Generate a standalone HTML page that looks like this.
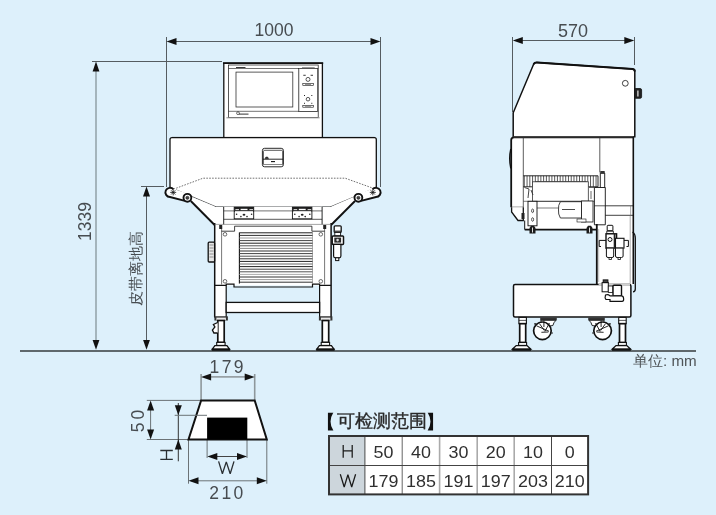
<!DOCTYPE html>
<html><head><meta charset="utf-8">
<style>
html,body{margin:0;padding:0;background:#ddf0fb;}
body{width:716px;height:515px;overflow:hidden;}
svg{display:block;will-change:transform;}
text{font-family:"Liberation Sans",sans-serif;}
</style></head><body>
<svg width="716" height="515" viewBox="0 0 716 515">
<rect x="0" y="0" width="716" height="515" fill="#ddf0fb"/>

<!-- ===== dimension lines ===== -->
<g stroke="#555c60" stroke-width="1" fill="none">
  <!-- 1000 -->
  <line x1="166.5" y1="37" x2="166.5" y2="187"/>
  <line x1="380.5" y1="37" x2="380.5" y2="187"/>
  <line x1="170" y1="41.5" x2="377" y2="41.5"/>
  <!-- 1339 -->
  <line x1="92" y1="61.5" x2="222" y2="61.5"/>
  <line x1="96" y1="66" x2="96" y2="345" stroke="#7f8d93" stroke-width="1.2"/>
  <!-- belt height -->
  <line x1="141" y1="186.5" x2="164" y2="186.5"/>
  <line x1="146.5" y1="192" x2="146.5" y2="345"/>
  <!-- 570 -->
  <line x1="512.5" y1="37" x2="512.5" y2="112"/>
  <line x1="634.5" y1="37" x2="634.5" y2="65"/>
  <line x1="516" y1="40.5" x2="631" y2="40.5"/>
</g>
<g fill="#111">
  <polygon points="166.5,41.5 176.5,38 176.5,45"/>
  <polygon points="380.5,41.5 370.5,38 370.5,45"/>
  <polygon points="96,61.5 92.6,71.5 99.4,71.5"/>
  <polygon points="146.5,186.5 143,196.5 150,196.5"/>
  <polygon points="96,349.8 92.6,340 99.4,340"/>
  <polygon points="146.5,349.8 143.1,340 149.9,340"/>
  <polygon points="512.8,40.5 522.8,37 522.8,44"/>
  <polygon points="634.3,40.5 624.3,37 624.3,44"/>
</g>
<g fill="#474c50">
  <text x="274" y="36.3" font-size="17.5" text-anchor="middle">1000</text>
  <text x="573" y="36.5" font-size="18" text-anchor="middle">570</text>
  <text transform="translate(91.2,221.5) rotate(-90)" font-size="17.5" text-anchor="middle">1339</text>
  <text transform="translate(140.6,268.7) rotate(-90)" font-size="14.8" font-weight="500" text-anchor="middle">皮带离地高</text>
  <text x="633" y="365.8" font-size="15.2" fill="#505558">单位: mm</text>
</g>

<!-- floor -->
<line x1="20" y1="351" x2="696" y2="351" stroke="#5f686c" stroke-width="2"/>

<!-- ===== LEFT MACHINE ===== -->
<g id="left" stroke="#111" fill="#fff">
  <!-- monitor -->
  <rect x="223.8" y="63.3" width="98.6" height="75" stroke-width="1.3"/>
  <line x1="223" y1="63.2" x2="323.2" y2="63.2" stroke-width="1.8"/>
  <rect x="228.6" y="65" width="89.6" height="52.4" stroke-width="0.7"/>
  <line x1="226.4" y1="117.8" x2="319.6" y2="117.8" stroke="#888" stroke-width="1"/>
  <line x1="228.6" y1="68.5" x2="318.2" y2="68.5" stroke-width="0.6"/>
  <line x1="228.6" y1="111.3" x2="318.2" y2="111.3" stroke-width="0.6"/>
  <rect x="236" y="72.1" width="56.8" height="34.9" stroke="#333" stroke-width="0.8"/>
  <rect x="298.4" y="68.5" width="19" height="42.8" stroke-width="0.6"/>
  <line x1="299.2" y1="68.5" x2="299.2" y2="111.3" stroke="#999" stroke-width="0.6"/>
  <g stroke-width="0.7" fill="#fff">
    <circle cx="308" cy="79.4" r="2"/>
    <circle cx="308" cy="99.2" r="1.8"/>
    <rect x="302.8" y="83.5" width="10.8" height="1.9" stroke-width="0.6"/>
    <rect x="302.8" y="105.3" width="10.8" height="1.9" stroke-width="0.6"/>
  </g>
  <g fill="#222" stroke="none">
    <rect x="303.3" y="74.8" width="2.4" height="0.9"/>
    <rect x="310.6" y="74.8" width="2.4" height="0.9"/>
    <rect x="304" y="95" width="1" height="1"/><rect x="311.3" y="95" width="1" height="1"/>
    <rect x="304" y="102.8" width="1" height="1"/><rect x="311.3" y="102.8" width="1" height="1"/>
    <rect x="305" y="84.1" width="6" height="0.7" fill="#666"/>
    <rect x="305" y="105.9" width="6" height="0.7" fill="#666"/>
    <rect x="236" y="67" width="9.5" height="0.9"/>
    <rect x="302" y="67.2" width="12.7" height="0.6" fill="#555"/>
    <rect x="239" y="113.6" width="9.5" height="1" fill="#333"/>
  </g>
  <circle cx="238" cy="113.2" r="1.4" fill="none" stroke-width="0.6"/>
  <!-- conveyor box -->
  <path d="M170,189 V139.5 Q170,137.6 172,137.6 H374.5 Q376.3,137.6 376.3,139.5 V189" stroke-width="1.3"/>
  <line x1="172" y1="137.4" x2="374.5" y2="137.4" stroke-width="0.8"/>
  <rect x="262.4" y="148.3" width="21" height="18.5" rx="2.2" stroke-width="0.9"/>
  <path d="M263.4,164.5 V151.6 Q263.4,150.3 264.8,150.3 H281.3 Q282.7,150.3 282.7,151.6 V164.5" stroke-width="0.7" fill="none"/>
  <line x1="263" y1="159.2" x2="283" y2="159.2" stroke-width="0.9"/>
  <line x1="263.4" y1="164.5" x2="282.7" y2="164.5" stroke-width="0.5"/>
  <path d="M265.2,158.6 A1.6,1.6 0 0 1 268.4,158.6 Z" fill="#222" stroke-width="0.6"/>
  <line x1="271" y1="161.6" x2="275" y2="161.6" stroke-width="1.1"/>
  <!-- conveyor belt panel -->
  <path d="M170,189 L203,178.3 H345 L376,189 L370,191 L331,206.8 H216 L176,191 Z" stroke="none"/>
  <path d="M173.5,189.2 L203,178.2 H345.2 L373.8,188.5" stroke="#333" stroke-width="0.7" stroke-dasharray="1.6,1.3" fill="none"/>
  <path d="M176,189.8 L216,206.8 M330.5,206.8 L370.5,190" stroke="#333" stroke-width="0.8" fill="none"/>
  <line x1="214" y1="207.2" x2="332" y2="207.2" stroke="#222" stroke-width="1.4"/>
  <!-- hopper sides -->
  <path d="M190.8,201 L214.6,225 H223.7 V207 H216 L191.8,197 Z" stroke="none"/>
  <path d="M355,201 L331.1,225 H322.1 V207 H330.5 L353.5,197 Z" stroke="none"/>
  <line x1="190.8" y1="201" x2="214.6" y2="225" stroke-width="1.9"/>
  <line x1="355" y1="201" x2="331.1" y2="225" stroke-width="1.9"/>
  <!-- rollers/links -->
  <path d="M170,187.8 L187.4,193.6 L187.4,202 L170,197 A4.6,4.6 0 0 1 170,187.8 Z" stroke="none"/>
  <path d="M173.5,189.4 A4.6,4.6 0 1 0 170,197 L185,200.8" stroke-width="1.9" fill="none"/>
  <path d="M173.2,189.4 v6 M170.2,192.4 h6 M171.1,190.3 l4.2,4.2 M175.3,190.3 l-4.2,4.2" stroke-width="0.8"/>
  <circle cx="187.4" cy="197.8" r="3.9" stroke-width="1.9"/>
  <circle cx="187.4" cy="197.8" r="1.6" fill="#444" stroke-width="0.5"/>
  <path d="M376,187.8 L358.4,193.6 L358.4,202 L376,197 A4.6,4.6 0 0 0 376,187.8 Z" stroke="none"/>
  <path d="M372.5,189.4 A4.6,4.6 0 1 1 376,197 L361,200.8" stroke-width="1.9" fill="none"/>
  <path d="M372.8,189.4 v6 M369.8,192.4 h6 M370.7,190.3 l4.2,4.2 M374.9,190.3 l-4.2,4.2" stroke-width="0.8"/>
  <circle cx="358.4" cy="197.8" r="3.9" stroke-width="1.9"/>
  <circle cx="358.4" cy="197.8" r="1.6" fill="#444" stroke-width="0.5"/>
  <!-- sub frame under conveyor -->
  <path d="M214.7,224 H331.1 V285.4 H214.7 Z M223.7,206.8 H322.1 V224.4 H223.7 Z M214.7,285 H226.2 V317.5 H214.7 Z M319.6,285 H331.1 V317.5 H319.6 Z" stroke="none"/>
  <line x1="223.7" y1="207" x2="223.7" y2="224.4" stroke-width="0.9"/>
  <line x1="322.1" y1="207" x2="322.1" y2="224.4" stroke-width="0.9"/>
  <line x1="223.7" y1="210.9" x2="322.1" y2="210.9" stroke-width="0.6"/>
  <line x1="223.7" y1="219.3" x2="322.1" y2="219.3" stroke-width="0.7"/>
  <rect x="234.2" y="207.2" width="19.5" height="11.6" stroke-width="0.9"/>
  <rect x="234.2" y="207" width="19.5" height="5" fill="#1e1e1e" stroke="none"/>
  <rect x="240.6" y="208.8" width="6.9" height="1.3" fill="#fff" stroke="none"/>
  <rect x="235.4" y="209" width="3.6" height="1.1" fill="#ccc" stroke="none"/>
  <rect x="249.4" y="209" width="3.6" height="1.1" fill="#ccc" stroke="none"/>
  <rect x="235.0" y="210.9" width="18" height="1" fill="#eee" stroke="none"/>
  <g fill="#222" stroke="none">
    <circle cx="236.6" cy="214.2" r="0.8"/><circle cx="251.6" cy="214.2" r="0.8"/>
    <ellipse cx="244.0" cy="214.8" rx="1.4" ry="1"/><circle cx="240.9" cy="216.6" r="0.8"/><circle cx="247.0" cy="216.6" r="0.8"/>
  </g>
  <rect x="292.4" y="207.2" width="19.5" height="11.6" stroke-width="0.9"/>
  <rect x="292.4" y="207" width="19.5" height="5" fill="#1e1e1e" stroke="none"/>
  <rect x="298.8" y="208.8" width="6.9" height="1.3" fill="#fff" stroke="none"/>
  <rect x="293.6" y="209" width="3.6" height="1.1" fill="#ccc" stroke="none"/>
  <rect x="307.6" y="209" width="3.6" height="1.1" fill="#ccc" stroke="none"/>
  <rect x="293.2" y="210.9" width="18" height="1" fill="#eee" stroke="none"/>
  <g fill="#222" stroke="none">
    <circle cx="294.8" cy="214.2" r="0.8"/><circle cx="309.8" cy="214.2" r="0.8"/>
    <ellipse cx="302.2" cy="214.8" rx="1.4" ry="1"/><circle cx="299.1" cy="216.6" r="0.8"/><circle cx="305.2" cy="216.6" r="0.8"/>
  </g>
  <!-- body -->
  <line x1="214.7" y1="223" x2="214.7" y2="317.5" stroke-width="1.5"/>
  <line x1="331.1" y1="223" x2="331.1" y2="317.5" stroke-width="1.5"/>
  <line x1="214.7" y1="224.4" x2="331.1" y2="224.4" stroke-width="0.6" stroke="#666"/>
  <line x1="221.6" y1="226" x2="221.6" y2="284.5" stroke="#555" stroke-width="0.8"/>
  <line x1="324.6" y1="226" x2="324.6" y2="284.5" stroke="#555" stroke-width="0.8"/>
  <path d="M221.6,231.2 H234.6 V226.2 H311.9 V231.2 H324.6" stroke-width="0.8" fill="none"/>
  <path d="M214.7,285.4 H226.2 V284.2 H234 V287 H312.5 V284.2 H319.6 V285.4 H331.1" stroke-width="1.2" fill="none"/>
  <circle cx="225" cy="234.3" r="1.8" stroke-width="0.6"/>
  <circle cx="225" cy="281.3" r="1.8" stroke-width="0.6"/>
  <circle cx="320.8" cy="234.3" r="1.8" stroke-width="0.6"/>
  <circle cx="320.8" cy="281.3" r="1.8" stroke-width="0.6"/>
  <rect x="219.2" y="225" width="3" height="4" fill="#222" stroke="none"/>
  <rect x="323.2" y="225" width="3" height="4" fill="#222" stroke="none"/>
  <!-- grille -->
  <line x1="239.4" y1="232.6" x2="239.4" y2="283.4" stroke-width="1.1"/>
  <line x1="312.5" y1="232.6" x2="312.5" y2="283.4" stroke-width="0.6" stroke="#777"/>
  <g id="grille">
    <line x1="239.4" y1="232.8" x2="312.5" y2="232.8" stroke="#222" stroke-width="1"/>
    <line x1="239.4" y1="235.4" x2="312.5" y2="235.4" stroke="#333" stroke-width="1"/>
    <line x1="239.4" y1="238" x2="312.5" y2="238" stroke="#999" stroke-width="1"/>
    <line x1="239.4" y1="240.6" x2="312.5" y2="240.6" stroke="#444" stroke-width="1"/>
    <line x1="239.4" y1="243.2" x2="312.5" y2="243.2" stroke="#222" stroke-width="1"/>
    <line x1="239.4" y1="245.8" x2="312.5" y2="245.8" stroke="#555" stroke-width="1"/>
    <line x1="239.4" y1="248.4" x2="312.5" y2="248.4" stroke="#888" stroke-width="1"/>
    <line x1="239.4" y1="251" x2="312.5" y2="251" stroke="#333" stroke-width="1"/>
    <line x1="239.4" y1="253.6" x2="312.5" y2="253.6" stroke="#444" stroke-width="1"/>
    <line x1="239.4" y1="256.2" x2="312.5" y2="256.2" stroke="#555" stroke-width="1"/>
    <line x1="239.4" y1="258.8" x2="312.5" y2="258.8" stroke="#333" stroke-width="1"/>
    <line x1="239.4" y1="261.4" x2="312.5" y2="261.4" stroke="#222" stroke-width="1"/>
    <line x1="239.4" y1="264" x2="312.5" y2="264" stroke="#666" stroke-width="1"/>
    <line x1="239.4" y1="266.6" x2="312.5" y2="266.6" stroke="#222" stroke-width="1"/>
    <line x1="239.4" y1="269.2" x2="312.5" y2="269.2" stroke="#444" stroke-width="1"/>
    <line x1="239.4" y1="271.8" x2="312.5" y2="271.8" stroke="#555" stroke-width="1"/>
    <line x1="239.4" y1="274.4" x2="312.5" y2="274.4" stroke="#aaa" stroke-width="1"/>
    <line x1="239.4" y1="277" x2="312.5" y2="277" stroke="#333" stroke-width="1"/>
    <line x1="239.4" y1="279.6" x2="312.5" y2="279.6" stroke="#999" stroke-width="1"/>
    <line x1="239.4" y1="282.2" x2="312.5" y2="282.2" stroke="#333" stroke-width="1"/>
  </g>
  <!-- legs -->
  <line x1="226.2" y1="285.4" x2="226.2" y2="317.5" stroke-width="1.2"/>
  <line x1="319.6" y1="285.4" x2="319.6" y2="317.5" stroke-width="1.2"/>
  <rect x="226.2" y="302.4" width="93.4" height="10.1" stroke-width="1.3"/>
  <line x1="214.7" y1="317.4" x2="226.2" y2="317.4" stroke-width="1.2"/>
  <line x1="319.6" y1="317.4" x2="331.1" y2="317.4" stroke-width="1.2"/>
  <!-- feet -->
  <rect x="214.4" y="316.3" width="13.5" height="4.2" fill="#333" stroke="none"/>
  <rect x="216.4" y="317.6" width="9.5" height="2.6" fill="#e8e8e8" stroke="none"/>
  <rect x="217.8" y="320.5" width="6.4" height="21.9" stroke-width="1.7"/>
  <rect x="216.70000000000002" y="342.4" width="8.4" height="3" stroke-width="1.1"/>
  <path d="M214.9,345.6 H226.9 L229.5,349.2 H212.3 Z" stroke-width="1.3"/>
  <rect x="211.70000000000002" y="348.6" width="18.4" height="2.2" fill="#111" stroke="none"/>
  <path d="M217.70000000000002,322.5 L213.4,324.5 L214.9,327 L212.4,330 L213.9,333 L217.70000000000002,333" stroke-width="1.3"/>
  <rect x="318.9" y="316.3" width="13.5" height="4.2" fill="#333" stroke="none"/>
  <rect x="320.9" y="317.6" width="9.5" height="2.6" fill="#e8e8e8" stroke="none"/>
  <rect x="322.29999999999995" y="320.5" width="6.4" height="21.9" stroke-width="1.7"/>
  <rect x="321.2" y="342.4" width="8.4" height="3" stroke-width="1.1"/>
  <path d="M319.4,345.6 H331.4 L334.0,349.2 H316.79999999999995 Z" stroke-width="1.3"/>
  <rect x="316.2" y="348.6" width="18.4" height="2.2" fill="#111" stroke="none"/>
  <!-- side parts -->
  <rect x="208.2" y="242.2" width="6.4" height="19.8" rx="1" fill="#e6e6e6" stroke-width="1.3"/>
  <g stroke="#555" stroke-width="0.6">
    <line x1="209.5" y1="245" x2="213.5" y2="245"/><line x1="209.5" y1="248" x2="213.5" y2="248"/>
    <line x1="209.5" y1="251" x2="213.5" y2="251"/><line x1="209.5" y1="254" x2="213.5" y2="254"/>
    <line x1="209.5" y1="257" x2="213.5" y2="257"/>
  </g>
  <g stroke-width="1.3">
    <rect x="334.2" y="225.8" width="7" height="6.6" rx="1"/>
    <rect x="334.2" y="230.6" width="7" height="1.2" fill="#333" stroke="none"/>
    <rect x="334.8" y="232.4" width="5.8" height="3.6" stroke-width="0.9"/>
    <rect x="332.2" y="236" width="11.3" height="8.4" rx="0.8" stroke-width="1.5"/>
    <rect x="334.3" y="237.6" width="6.8" height="5" fill="#2a2a2a" stroke="none"/>
    <circle cx="337.6" cy="240.1" r="1.3" fill="#ddd" stroke="none"/>
    <path d="M333.6,244.4 H340.9 V256 Q340.9,257.8 339.1,257.8 H335.4 Q333.6,257.8 333.6,256 Z" stroke-width="1.2"/>
    <rect x="335.6" y="257.8" width="3.2" height="2.8" stroke-width="1"/>
  </g>
  </g>
<!-- ===== RIGHT MACHINE ===== -->
<g id="right" stroke="#111" fill="#fff">
  <!-- top housing -->
  <path d="M513.2,136.8 V112.8 L533.6,64.2 Q534.6,62.2 537,62.4 L632.6,69 Q634.8,69.3 634.8,71.5 V136.8 Z" stroke-width="1.5"/>
  <path d="M533.6,64.2 Q534.6,62.2 537,62.4 L632.6,69 Q634.8,69.3 634.8,71.5" stroke-width="2" fill="none"/>
  <circle cx="625.3" cy="83.3" r="2.9" stroke-width="0.8"/>
  <path d="M635.3,88.5 H640 Q641.6,88.5 641.6,90 V96.8 Q641.6,98.3 640,98.3 H635.3 Z" fill="#222" stroke-width="0.8"/>
  <rect x="637.3" y="90.5" width="1.2" height="6" fill="#eee" stroke="none"/>
  <!-- white fill for body -->
  <path d="M511.2,137 H633.5 V285 H597 V229.6 H524.6 V220.5 H518 L511.6,212 V207.2 H511.2 Z" stroke="none"/>
  <!-- lower body outline -->
  <path d="M511.2,207.2 V140 Q511.2,137.4 514,137.4 H633.2" stroke-width="1.8" fill="none"/>
  <line x1="513.5" y1="136.8" x2="633.5" y2="136.8" stroke="#444" stroke-width="1.5"/>
  <path d="M510.8,149 Q508.6,158.5 510.8,168.3" stroke-width="1.4" fill="none"/>
  <line x1="633.3" y1="137" x2="633.3" y2="284" stroke-width="1.6"/>
  <line x1="523.3" y1="137.4" x2="523.3" y2="207.2" stroke="#333" stroke-width="0.8"/>
  <line x1="599.8" y1="137.4" x2="599.8" y2="172.5" stroke="#333" stroke-width="0.8"/>
  <!-- belt teeth -->
  <g stroke="#222" stroke-width="0.75"><line x1="524.30" y1="175.8" x2="524.30" y2="186.8"/><line x1="527.06" y1="175.8" x2="527.06" y2="186.8"/><line x1="529.82" y1="175.8" x2="529.82" y2="186.8"/><line x1="532.58" y1="175.8" x2="532.58" y2="186.8"/><line x1="535.34" y1="175.8" x2="535.34" y2="186.8"/><line x1="538.10" y1="175.8" x2="538.10" y2="181.8"/><line x1="540.86" y1="175.8" x2="540.86" y2="181.8"/><line x1="543.62" y1="175.8" x2="543.62" y2="181.8"/><line x1="546.38" y1="175.8" x2="546.38" y2="181.8"/><line x1="549.14" y1="175.8" x2="549.14" y2="181.8"/><line x1="551.90" y1="175.8" x2="551.90" y2="181.8"/><line x1="554.66" y1="175.8" x2="554.66" y2="181.8"/><line x1="557.42" y1="175.8" x2="557.42" y2="181.8"/><line x1="560.18" y1="175.8" x2="560.18" y2="181.8"/><line x1="562.94" y1="175.8" x2="562.94" y2="181.8"/><line x1="565.70" y1="175.8" x2="565.70" y2="181.8"/><line x1="568.46" y1="175.8" x2="568.46" y2="181.8"/><line x1="571.22" y1="175.8" x2="571.22" y2="181.8"/><line x1="573.98" y1="175.8" x2="573.98" y2="181.8"/><line x1="576.74" y1="175.8" x2="576.74" y2="181.8"/><line x1="579.50" y1="175.8" x2="579.50" y2="181.8"/><line x1="582.26" y1="175.8" x2="582.26" y2="181.8"/><line x1="585.02" y1="175.8" x2="585.02" y2="181.8"/><line x1="587.78" y1="175.8" x2="587.78" y2="186.8"/><line x1="590.54" y1="175.8" x2="590.54" y2="186.8"/><line x1="593.30" y1="175.8" x2="593.30" y2="186.8"/><line x1="596.06" y1="175.8" x2="596.06" y2="186.8"/></g>
  <path d="M523.3,175.8 H598 V186.8 H586.5 V181.8 H535.6 V186.8 H523.3" stroke-width="0.9" fill="none"/>
  <rect x="532.4" y="181.8" width="55.9" height="19.5" stroke="#333" stroke-width="0.8"/>
  <path d="M524.5,187.5 L529,189 L528,198 M531,190 L533,195" stroke="#333" stroke-width="0.9" fill="none"/>
  <path d="M589,187.5 L596,187.5 L596,199 M591,191 v8" stroke="#444" stroke-width="0.8" fill="none"/>
  <line x1="523.3" y1="201.3" x2="594.4" y2="201.3" stroke="#444" stroke-width="0.7"/>
  <line x1="511.2" y1="207.2" x2="523.3" y2="207.2" stroke="#444" stroke-width="0.9"/>
  <line x1="537" y1="208" x2="560.2" y2="208" stroke="#444" stroke-width="0.7"/>
  <!-- guide column -->
  <path d="M600.3,173 H604.7 V188 H600.3 Z" stroke-width="0.9"/>
  <path d="M594.4,187.5 H605.3 V224.8 H594.4 Z" stroke-width="0.9"/>
  <rect x="600.3" y="171" width="4.4" height="2.8" fill="#333" stroke="none"/>
  <line x1="594.4" y1="205.8" x2="605.3" y2="205.8" stroke-width="0.7"/>
  <line x1="605.3" y1="205.8" x2="633.3" y2="205.8" stroke-width="0.8"/>
  <line x1="605.3" y1="215.3" x2="633.3" y2="215.3" stroke-width="0.8"/>
  <line x1="630.6" y1="205.8" x2="630.6" y2="215.3" stroke="#777" stroke-width="0.6"/>
  <!-- motor -->
  <path d="M560.4,201.7 H581.5 V218 H560.4 Q558,214 558.5,210 Q558,205 560.4,201.7 Z" stroke-width="0.8"/>
  <line x1="562" y1="209.5" x2="575" y2="209.5" stroke="#333" stroke-width="0.9"/>
  <rect x="581.5" y="201" width="11.5" height="21" stroke-width="0.8"/>
  <rect x="577" y="219" width="9" height="3" stroke-width="0.6"/>
  <!-- bottom-left corner piece -->
  <path d="M511.6,207.2 V212 L518,220.5 H523.3 V207.2" stroke-width="1.3"/>
  <rect x="521.5" y="213" width="3" height="6" fill="#222" stroke="none"/>
  <rect x="528" y="201.3" width="9" height="24.5" stroke-width="0.9"/>
  <ellipse cx="532.6" cy="210.8" rx="1" ry="1.8" stroke-width="0.7"/>
  <ellipse cx="532.6" cy="219.5" rx="1" ry="1.8" stroke-width="0.7"/>
  <line x1="524.7" y1="229.6" x2="597" y2="229.6" stroke-width="1.8"/>
  <line x1="524.7" y1="220.5" x2="524.7" y2="229.6" stroke-width="1"/>
    <path d="M529.5,233.4 V228 L531.0,225.8 H534.0 L535.5,228 V233.4 Z" fill="#1a1a1a" stroke="none"/><rect x="532.0" y="227.5" width="1" height="5" fill="#ddd" stroke="none"/>
  <path d="M586.5,233.4 V228 L588.0,225.8 H591.0 L592.5,228 V233.4 Z" fill="#1a1a1a" stroke="none"/><rect x="589.0" y="227.5" width="1" height="5" fill="#ddd" stroke="none"/>
  <!-- column -->
  <line x1="596.8" y1="224" x2="596.8" y2="284" stroke-width="1.8"/>
  <line x1="598.7" y1="229" x2="598.7" y2="282" stroke="#999" stroke-width="0.6"/>
  
  <line x1="630.2" y1="216" x2="630.2" y2="284" stroke="#777" stroke-width="0.6"/>
  <!-- filter units -->
  <g stroke-width="1">
    <path d="M606,240.4 H599.2 V246.5 H601" fill="none"/>
    <path d="M624,240.4 H628.4 V246.5 H626.5" fill="none"/>
    <rect x="607.2" y="225.3" width="5.7" height="5.6" rx="0.8"/>
    <rect x="607.2" y="230.2" width="5.7" height="1" fill="#333" stroke="none"/>
    <rect x="606.8" y="231.2" width="6.5" height="2.6" stroke-width="0.8"/>
    <rect x="606" y="233.8" width="10.6" height="14.3" stroke-width="1.4"/>
    <rect x="613.7" y="233.8" width="1.8" height="14.3" fill="#222" stroke="none"/>
    <circle cx="610" cy="239.5" r="2" stroke-width="1"/>
    <rect x="615.5" y="238.3" width="8.5" height="9.8" stroke-width="1.1"/>
    <path d="M606.4,248.1 H613.7 V256 Q613.7,257.5 612,257.5 H608.1 Q606.4,257.5 606.4,256 Z"/>
    <path d="M615.5,248.1 H623.1 V256 Q623.1,257.5 621.4,257.5 H617.2 Q615.5,257.5 615.5,256 Z"/>
    <rect x="609" y="257.5" width="2.6" height="2" stroke-width="0.8"/>
    <rect x="618" y="257.5" width="2.6" height="2" stroke-width="0.8"/>
  </g>
  <!-- base -->
  <rect x="513.5" y="284.6" width="117.4" height="32.4" rx="1.5" stroke-width="1.5"/>
  <line x1="598.6" y1="284.6" x2="630" y2="284.6" stroke="#d0d0d0" stroke-width="1.6"/>
  <path d="M632.6,232 Q635.3,234 635.3,238 V289 Q635.3,291.8 633,291.8" stroke-width="1.3" fill="none"/>
  <!-- solenoid -->
  <g stroke-width="1">
    <rect x="602.1" y="282.6" width="6.2" height="9.2"/>
    <rect x="603.2" y="279.9" width="4.7" height="2.7" fill="#444"/>
    <rect x="608.3" y="286" width="4.7" height="6.5" stroke-width="0.8"/>
    <rect x="613" y="285.3" width="8.5" height="10.6" rx="1" stroke-width="1.4"/>
    <path d="M605.5,295 Q604.5,298 606,299.5 H610 V301.3 H622 Q624,301.3 623.6,298.5 Q623.4,295.8 621.5,295.8 H610 Q608,293.8 605.5,295 Z" stroke-width="1.2"/>
  </g>
  <!-- legs -->
  <rect x="518.9" y="317.4" width="7.5" height="6.3" stroke-width="1.1"/>
  <line x1="518.9" y1="320.4" x2="526.4" y2="320.4" stroke-width="0.7"/>
  <rect x="519.7" y="323.7" width="6" height="18.8" stroke-width="1.7"/>
  <rect x="518.6" y="342.5" width="8" height="2.9" stroke-width="1.1"/>
  <path d="M516.2,345.6 H527.0 L530.8000000000001,349.2 H512.4 Z" stroke-width="1.3"/>
  <rect x="512.2" y="348.6" width="18.8" height="2.2" fill="#111" stroke="none"/>
  <rect x="618.6999999999999" y="317.4" width="7.5" height="6.3" stroke-width="1.1"/>
  <line x1="618.6999999999999" y1="320.4" x2="626.1999999999999" y2="320.4" stroke-width="0.7"/>
  <rect x="619.5" y="323.7" width="6" height="18.8" stroke-width="1.7"/>
  <rect x="618.4" y="342.5" width="8" height="2.9" stroke-width="1.1"/>
  <path d="M616.0,345.6 H626.8 L630.6,349.2 H612.1999999999999 Z" stroke-width="1.3"/>
  <rect x="612.0" y="348.6" width="18.8" height="2.2" fill="#111" stroke="none"/>
  <!-- casters -->
  <rect x="540.2" y="317.6" width="16.6" height="2.8" fill="#333" stroke="none"/>
  <path d="M540.90,320.3 H555.90 L553.90,322.8 L552.90,325.5 L546.40,326.5 L541.40,324 Z" stroke-width="0.9"/>
  <circle cx="542.4" cy="330.8" r="8.8" stroke-width="1.7"/>
  <g stroke-width="0.9" fill="none">
    <path d="M536.50,325.8 L549.00,331.3"/>
    <path d="M539.40,323.5 L544.40,330.6"/>
    <path d="M549.40,323 L544.90,331.5"/>
    <path d="M543.90,320.5 V327"/>
    <path d="M541.40,332.3 L548.40,332"/>
  </g>
  <rect x="534.2" y="323.2" width="2" height="1.4" fill="#222" stroke="none"/>
  <rect x="551.4" y="332.4" width="1.4" height="1.2" fill="#222" stroke="none"/>
  <rect x="588.2" y="317.6" width="16.6" height="2.8" fill="#333" stroke="none"/>
  <path d="M604.10,320.3 H589.10 L591.10,322.8 L592.10,325.5 L598.60,326.5 L603.60,324 Z" stroke-width="0.9"/>
  <circle cx="602.6" cy="330.8" r="8.8" stroke-width="1.7"/>
  <g stroke-width="0.9" fill="none">
    <path d="M608.50,325.8 L596.00,331.3"/>
    <path d="M605.60,323.5 L600.60,330.6"/>
    <path d="M595.60,323 L600.10,331.5"/>
    <path d="M601.10,320.5 V327"/>
    <path d="M603.60,332.3 L596.60,332"/>
  </g>
  <rect x="608.8" y="323.2" width="2" height="1.4" fill="#222" stroke="none"/>
  <rect x="592.2" y="332.4" width="1.4" height="1.2" fill="#222" stroke="none"/>
</g>

<!-- ===== bottom-left trapezoid ===== -->
<g stroke="#6b7276" stroke-width="1" fill="none">
  <line x1="201.1" y1="374" x2="201.1" y2="400" stroke="#8e979b" stroke-width="1.6"/>
  <line x1="254.7" y1="374" x2="254.7" y2="400" stroke="#8e979b" stroke-width="1.6"/>
  <line x1="204" y1="376.9" x2="252" y2="376.9" stroke="#97a0a5" stroke-width="1.8"/>
  <line x1="146.8" y1="400.4" x2="201" y2="400.4"/>
  <line x1="146.8" y1="439.5" x2="188" y2="439.5"/>
  <line x1="150.6" y1="404" x2="150.6" y2="436"/>
  
  <line x1="178.3" y1="403" x2="178.3" y2="461.3" stroke="#333"/>
  <line x1="207.1" y1="440" x2="207.1" y2="458"/>
  <line x1="247" y1="440" x2="247" y2="458"/>
  <line x1="210" y1="456.5" x2="244" y2="456.5" stroke="#444"/>
  <line x1="188.5" y1="440" x2="188.5" y2="483.7"/>
  <line x1="266.8" y1="440" x2="266.8" y2="483.7"/>
  <line x1="191" y1="480.8" x2="264" y2="480.8"/>
</g>
<g fill="#111">
  <polygon points="201.1,376.9 211.1,373.4 211.1,380.4"/>
  <polygon points="254.7,376.9 244.7,373.4 244.7,380.4"/>
  <polygon points="150.6,400.4 147.1,410.4 154.1,410.4"/>
  <polygon points="150.6,439.5 147.1,429.5 154.1,429.5"/>
  <polygon points="178.3,415.3 174.8,405.3 181.8,405.3"/>
  <polygon points="178.3,439.5 174.8,449.5 181.8,449.5"/>
  <polygon points="207.3,456.5 217.3,453 217.3,460"/>
  <polygon points="247,456.5 237,453 237,460"/>
  <polygon points="188.5,480.8 198.5,477.3 198.5,484.3"/>
  <polygon points="266.8,480.8 256.8,477.3 256.8,484.3"/>
</g>
<polygon points="201.1,400.4 254.7,400.4 266.8,439.5 188.5,439.5" fill="#fff" stroke="#111" stroke-width="2"/>
<rect x="207.1" y="417.6" width="40.2" height="21.9" fill="#000"/>
<line x1="174.7" y1="415.3" x2="207" y2="415.3" stroke="#6b7276" stroke-width="1"/>
<g fill="#474c50">
  <text x="227.8" y="372.9" font-size="17.5" letter-spacing="2.4" text-anchor="middle">179</text>
  <text x="227.5" y="499.1" font-size="17.5" letter-spacing="2.4" text-anchor="middle">210</text>
  <text transform="translate(143.6,419.4) rotate(-90)" font-size="17.5" letter-spacing="3.2" text-anchor="middle">50</text>
</g>

<path d="M160.3,450.5 H172.8 M160.3,459.4 H172.8 M166.5,450.5 V459.4 M218.6,461.4 L222.4,473.8 L226.3,461.9 L230.2,473.8 L234,461.4" stroke="#2a2f32" stroke-width="1.3" fill="none" stroke-linejoin="bevel"/>
<!-- ===== table ===== -->
<text x="337.3" y="427.2" font-size="17.6" font-weight="500" fill="#2a2a2a" stroke="#2a2a2a" stroke-width="0.35">可检测范围</text>
<text x="316.8" y="427.6" font-size="17.6" font-weight="700" fill="#111">【</text>
<text x="425.5" y="427.6" font-size="17.6" font-weight="700" fill="#111">】</text>
<g>
  <rect x="329" y="436" width="35.7" height="58.4" fill="#cdd6dc"/>
  <rect x="364.7" y="436" width="223.4" height="58.4" fill="#fff"/>
  <g>
    <line x1="364.9" y1="436" x2="364.9" y2="494.4" stroke="#444" stroke-width="1"/>
    <line x1="402.2" y1="436" x2="402.2" y2="494.4" stroke="#666" stroke-width="1"/>
    <line x1="439.6" y1="436" x2="439.6" y2="494.4" stroke="#aaa" stroke-width="1.6"/>
    <line x1="477.2" y1="436" x2="477.2" y2="494.4" stroke="#aaa" stroke-width="1.6"/>
    <line x1="514.2" y1="436" x2="514.2" y2="494.4" stroke="#aaa" stroke-width="1.6"/>
    <line x1="551.5" y1="436" x2="551.5" y2="494.4" stroke="#444" stroke-width="1"/>
    <line x1="329" y1="465.5" x2="588.1" y2="465.5" stroke="#444" stroke-width="1"/>
  </g>
  <rect x="329" y="436" width="259.1" height="58.4" fill="none" stroke="#333" stroke-width="2"/>
  <path d="M343.2,445 V457.7 M352.2,445 V457.7 M343.2,450.8 H352.2 M340.3,474.3 L344.2,487 L347.9,474.8 L351.7,487 L355.6,474.3" stroke="#1a1a1a" stroke-width="1.25" fill="none" stroke-linejoin="bevel"/>

  <g font-size="16" fill="#303030" text-anchor="middle">
    <text transform="translate(383.5,457.5) scale(1.12,1.08)">50</text>
    <text transform="translate(421,457.5) scale(1.12,1.08)">40</text>
    <text transform="translate(458.5,457.5) scale(1.12,1.08)">30</text>
    <text transform="translate(495.7,457.5) scale(1.12,1.08)">20</text>
    <text transform="translate(532.9,457.5) scale(1.12,1.08)">10</text>
    <text transform="translate(569.8,457.5) scale(1.12,1.08)">0</text>
    <text transform="translate(383.5,486.6) scale(1.12,1.08)">179</text>
    <text transform="translate(421,486.6) scale(1.12,1.08)">185</text>
    <text transform="translate(458.5,486.6) scale(1.12,1.08)">191</text>
    <text transform="translate(495.7,486.6) scale(1.12,1.08)">197</text>
    <text transform="translate(532.9,486.6) scale(1.12,1.08)">203</text>
    <text transform="translate(569.8,486.6) scale(1.12,1.08)">210</text>
  </g>
</g>
</svg>
</body></html>
